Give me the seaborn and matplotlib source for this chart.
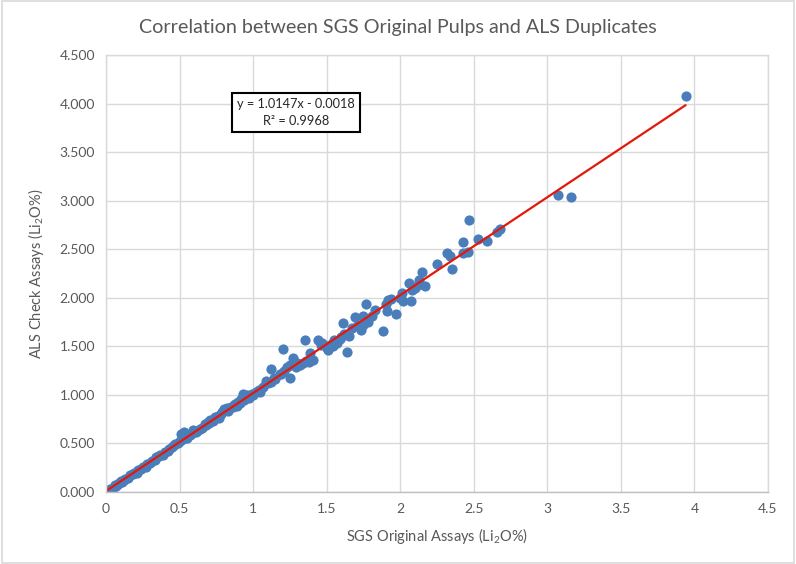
import seaborn as sns
import pandas as pd
import matplotlib.pyplot as plt
import numpy as np
from matplotlib.patches import Rectangle

# SGS original pulp assays vs ALS duplicate check assays (Li2O %)
sgs = [0.01, 0.02, 0.03, 0.04, 0.05, 0.06, 0.07, 0.08, 0.09, 0.10,
       0.11, 0.12, 0.13, 0.15, 0.16, 0.18, 0.19, 0.21, 0.22, 0.24,
       0.25, 0.27, 0.28, 0.30, 0.31, 0.33, 0.34, 0.36, 0.37, 0.39,
       0.40, 0.42, 0.43, 0.45, 0.46, 0.47, 0.49, 0.50, 0.51, 0.52,
       0.53, 0.54, 0.55, 0.57, 0.58, 0.59, 0.61, 0.62, 0.64, 0.65,
       0.67, 0.68, 0.69, 0.70, 0.71, 0.73, 0.74, 0.76, 0.77, 0.78,
       0.79, 0.80, 0.82, 0.83, 0.85, 0.86, 0.87, 0.88, 0.89, 0.90,
       0.91, 0.92, 0.93, 0.94, 0.95, 0.96, 0.97, 0.99, 1.00, 1.02,
       1.04, 1.05, 1.07, 1.09, 1.10, 1.12, 1.12, 1.14, 1.15, 1.18,
       1.19, 1.20, 1.21, 1.23, 1.25, 1.25, 1.27, 1.29, 1.30, 1.32,
       1.34, 1.35, 1.36, 1.38, 1.39, 1.41, 1.44, 1.46, 1.47, 1.50,
       1.51, 1.52, 1.54, 1.55, 1.57, 1.59, 1.60, 1.61, 1.62, 1.64,
       1.65, 1.67, 1.69, 1.71, 1.73, 1.75, 1.75, 1.77, 1.78, 1.81,
       1.83, 1.88, 1.90, 1.91, 1.92, 1.94, 1.97, 2.00, 2.01, 2.02,
       2.06, 2.07, 2.08, 2.10, 2.12, 2.13, 2.15, 2.17, 2.25, 2.32,
       2.34, 2.35, 2.43, 2.43, 2.46, 2.47, 2.53, 2.59, 2.66, 2.68,
       3.07, 3.16, 3.94]
als = [0.01, 0.015, 0.035, 0.03, 0.045, 0.07, 0.06, 0.085, 0.09, 0.11,
       0.10, 0.12, 0.135, 0.14, 0.17, 0.18, 0.20, 0.20, 0.23, 0.24,
       0.26, 0.26, 0.29, 0.30, 0.32, 0.33, 0.36, 0.37, 0.38, 0.385,
       0.41, 0.42, 0.44, 0.46, 0.48, 0.49, 0.50, 0.52, 0.60, 0.55,
       0.62, 0.58, 0.56, 0.59, 0.60, 0.64, 0.62, 0.63, 0.65, 0.66,
       0.70, 0.69, 0.72, 0.71, 0.74, 0.73, 0.77, 0.78, 0.76, 0.80,
       0.82, 0.85, 0.86, 0.83, 0.88, 0.87, 0.90, 0.91, 0.89, 0.93,
       0.92, 0.96, 1.01, 0.95, 0.98, 1.00, 0.97, 1.01, 1.00, 1.03,
       1.05, 1.03, 1.08, 1.14, 1.12, 1.13, 1.27, 1.17, 1.16, 1.22,
       1.21, 1.47, 1.25, 1.29, 1.17, 1.31, 1.38, 1.29, 1.33, 1.31,
       1.33, 1.57, 1.35, 1.34, 1.43, 1.36, 1.57, 1.51, 1.53, 1.48,
       1.46, 1.51, 1.50, 1.57, 1.53, 1.58, 1.60, 1.74, 1.63, 1.44,
       1.61, 1.69, 1.80, 1.72, 1.67, 1.81, 1.72, 1.94, 1.75, 1.81,
       1.87, 1.66, 1.94, 1.86, 1.98, 1.99, 1.83, 2.00, 2.05, 1.97,
       2.15, 1.97, 2.08, 2.10, 2.13, 2.18, 2.27, 2.12, 2.35, 2.46,
       2.43, 2.30, 2.46, 2.57, 2.47, 2.80, 2.60, 2.58, 2.68, 2.71,
       3.06, 3.04, 4.08]

x_ticks = [0, 0.5, 1, 1.5, 2, 2.5, 3, 3.5, 4, 4.5]
x_labels = ["0", "0.5", "1", "1.5", "2", "2.5", "3", "3.5", "4", "4.5"]
y_ticks = [0, 0.5, 1, 1.5, 2, 2.5, 3, 3.5, 4, 4.5]
y_labels = ["0.000", "0.500", "1.000", "1.500", "2.000", "2.500",
            "3.000", "3.500", "4.000", "4.500"]
eq_text = "y = 1.0147x - 0.0018\nR² = 0.9968"

df = pd.DataFrame({"SGS": sgs, "ALS": als})

sns.set_style("white")
plt.rcParams['font.family'] = ['Lato', 'DejaVu Sans']
plt.rcParams['mathtext.fontset'] = 'custom'
plt.rcParams['mathtext.rm'] = 'Lato'

grey = '#595959'
fig = plt.figure(figsize=(7.96, 5.64), dpi=100)
ax = fig.add_axes([0.1332, 0.1277, 0.8316, 0.7748])

sns.regplot(data=df, x="SGS", y="ALS", ax=ax, ci=None,
            scatter_kws={"s": 54, "color": "#4a7ebb", "linewidths": 0, "alpha": 1},
            line_kws={"color": "#e3170a", "lw": 1.6})

ax.set_xlim(0, 4.5)
ax.set_ylim(0, 4.5)
ax.set_xticks(x_ticks)
ax.set_xticklabels(x_labels)
ax.set_yticks(y_ticks)
ax.set_yticklabels(y_labels)
ax.tick_params(length=0, labelsize=10, colors=grey, pad=8)
ax.grid(True, color='#d9d9d9', lw=1)
ax.set_axisbelow(True)
for s in ax.spines.values():
    s.set_color('#d9d9d9')
    s.set_linewidth(1)
ax.spines['bottom'].set_color('#bfbfbf')

ax.set_xlabel("SGS Original Assays (Li$_\\mathrm{2}$O%)", fontsize=10.5, color=grey, labelpad=8)
ax.set_ylabel("ALS Check Assays (Li$_\\mathrm{2}$O%)", fontsize=10.5, color=grey, labelpad=10)
fig.text(0.5, 0.952, "Correlation between SGS Original Pulps and ALS Duplicates",
         ha='center', va='center', fontsize=14.2, color=grey)

ax.text(1.29, 3.91, eq_text, ha='center', va='center', fontsize=9.2, color='#262626',
        linespacing=1.5,
        bbox=dict(boxstyle='square,pad=0.4', fc='white', ec='black', lw=1.5))

fig.patches.append(Rectangle((0.002, 0.002), 0.996, 0.996, transform=fig.transFigure,
                             fill=False, ec='#d9d9d9', lw=1.2))

fig.savefig("out.png", dpi=100)
